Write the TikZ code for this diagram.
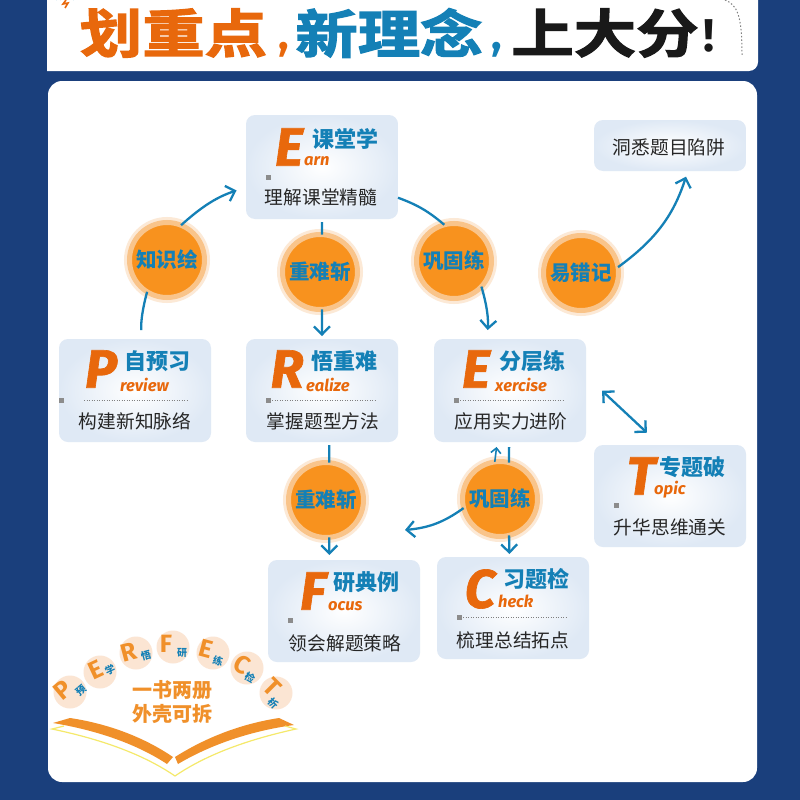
\documentclass[tikz,border=0pt]{standalone}
\usepackage{fontspec}
\usetikzlibrary{arrows.meta}
\newfontfamily\cjk{Noto Sans CJK SC}
\newfontfamily\cjkfat{Noto Sans CJK SC Bold}[FakeBold=2.5,FakeStretch=1.2]
\newfontfamily\lat{Fira Sans}
\newfontfamily\latfat{Fira Sans Bold Italic}[FakeBold=1.2]
\definecolor{navy}{HTML}{1A3F7C}
\definecolor{ora}{HTML}{E8680C}
\definecolor{blu}{HTML}{1480B6}
\definecolor{cardedge}{HTML}{DFE9F5}
\definecolor{halo}{HTML}{FCE9D6}
\definecolor{orbmid}{HTML}{F9C48A}
\definecolor{orbin}{HTML}{F8921E}
\definecolor{peach}{HTML}{FBE5D3}
\definecolor{bookora}{HTML}{F0902A}
\definecolor{bookyel}{HTML}{F5E96A}
\tikzset{
 card/.style={rounded corners=9pt,inner color=white,outer color=cardedge,anchor=north west,inner sep=0pt,outer sep=0pt},
 orb/.style={circle,minimum size=75pt,inner sep=0pt,outer sep=0pt,fill=orbin,draw=orbmid,line width=5pt,
   preaction={draw=halo,line width=11pt},text=blu,font=\cjk\bfseries\fontsize{20.5}{21}\selectfont},
 biglet/.style={text=ora,inner sep=0pt,font=\latfat\fontsize{54}{54}\selectfont},
 restlet/.style={text=ora,inner sep=0pt,anchor=west,font=\lat\bfseries\itshape\fontsize{16.5}{17}\selectfont},
 cardtitle/.style={text=blu,inner sep=0pt,font=\cjk\bfseries\fontsize{22}{22}\selectfont},
 cardsub/.style={text=black!85,inner sep=0pt,font=\cjk\fontsize{18.7}{19}\selectfont},
 sq/.style={fill=black!45,minimum size=5pt,inner sep=0pt},
 dotline/.style={draw=black!50,line width=.8pt,dash pattern=on 1pt off 1.5pt},
 conn/.style={draw=blu,line width=2.3pt},
 tip/.style={-{Straight Barb[length=8pt,width=16pt,line width=2.3pt]}},
 headline/.style={inner sep=0pt,font=\cjkfat\fontsize{52}{52}\selectfont},
 pball/.style={circle,fill=peach,minimum size=33pt,inner sep=0pt},
 plet/.style={text=bookora,inner sep=0pt,font=\lat\bfseries\fontsize{25}{25}\selectfont},
 pcj/.style={text=blu,inner sep=0pt,font=\cjk\bfseries\fontsize{10}{10}\selectfont},
 bookt/.style={text=bookora,inner sep=0pt,font=\cjk\bfseries\fontsize{20}{20}\selectfont},
}
\begin{document}
\begin{tikzpicture}[x=1pt,y=-1pt]
\useasboundingbox (0,0) rectangle (800,800);
\fill[navy] (0,0) rectangle (800,800);
% banner + panel
\fill[white] (47,-10) -- (758,-10) -- (758,62) arc[start angle=0,end angle=90,radius=9] -- (47,71) -- cycle;
\fill[white,rounded corners=14pt] (48,81) rectangle (757,782);
\draw[black!50,line width=1pt,dash pattern=on 1.5pt off 2pt] (725,0) .. controls (737,5) and (742,14) .. (742,55);
\draw[blu,line width=1.4pt] (56,0) arc[start angle=180,end angle=360,radius=9];
\draw[black!60,line width=1pt] (60,0) arc[start angle=180,end angle=300,radius=6];
\draw[ora,line width=1.6pt] (66,0) -- (63,4) -- (68,3) -- (65,8);
% headline
\node[headline,text=ora] (h1) at (173.5,33) {划重点};
\node[inner sep=0pt,text=ora,font=\lat\bfseries\fontsize{44}{44}\selectfont] (h1c) at (284,50) {,};
\node[headline,text=blu] (h2) at (389,33) {新理念};
\node[inner sep=0pt,text=blu,font=\lat\bfseries\fontsize{44}{44}\selectfont] (h2c) at (497,50) {,};
\node[headline,text=black!90] (h3) at (605,33) {上大分};
\node[inner sep=0pt,text=black!90,font=\lat\bfseries\fontsize{46}{46}\selectfont] (h3c) at (709,36) {!};
% cards
\node[card,minimum width=152pt,minimum height=104pt] (earn) at (246,115) {};
\node[biglet] (earnL) at (289,147) {E};
\node[cardtitle] (earnT) at (345,139) {课堂学};
\node[restlet] (earnR) at (304,161) {arn};
\node[sq] (earnS) at (268,177) {};
\node[cardsub] (earnB) at (321,197) {理解课堂精髓};

\node[card,minimum width=152pt,minimum height=103pt] (rev) at (59,339) {};
\node[biglet] (revL) at (101,369) {P};
\node[cardtitle] (revT) at (157,361) {自预习};
\node[restlet] (revR) at (120,385) {review};
\node[sq] (revS) at (61,400) {};
\draw[dotline] (84,400) -- (188,400);
\node[cardsub] (revB) at (135,421) {构建新知脉络};

\node[card,minimum width=152pt,minimum height=103pt] (rea) at (246,339) {};
\node[biglet] (reaL) at (287,369) {R};
\node[cardtitle] (reaT) at (344,361) {悟重难};
\node[restlet] (reaR) at (306,385) {ealize};
\node[sq] (reaS) at (268,400) {};
\draw[dotline] (272,400) -- (375,400);
\node[cardsub] (reaB) at (323,421) {掌握题型方法};

\node[card,minimum width=152pt,minimum height=103pt] (exe) at (434,339) {};
\node[biglet] (exeL) at (476,369) {E};
\node[cardtitle] (exeT) at (532,361) {分层练};
\node[restlet] (exeR) at (495,385) {xercise};
\node[sq] (exeS) at (456,400) {};
\draw[dotline] (460,400) -- (563,400);
\node[cardsub] (exeB) at (511,421) {应用实力进阶};

\node[card,minimum width=152pt,minimum height=102pt] (top) at (594,445) {};
\node[biglet] (topL) at (641,476) {T};
\node[cardtitle] (topT) at (692,467) {专题破};
\node[restlet] (topR) at (654,490) {opic};
\node[sq] (topS) at (616,505) {};
\node[cardsub] (topB) at (670,527) {升华思维通关};

\node[card,minimum width=152pt,minimum height=102pt] (foc) at (268,560) {};
\node[biglet] (focL) at (313,591) {F};
\node[cardtitle] (focT) at (366,582) {研典例};
\node[restlet] (focR) at (328,606) {ocus};
\node[sq] (focS) at (290,620) {};
\node[cardsub] (focB) at (345,643) {领会解题策略};

\node[card,minimum width=152pt,minimum height=102pt] (che) at (437,557) {};
\node[biglet] (cheL) at (480,589) {C};
\node[cardtitle] (cheT) at (536,579) {习题检};
\node[restlet] (cheR) at (498,601) {heck};
\node[sq] (cheS) at (459,617) {};
\draw[dotline] (463,617) -- (566,617);
\node[cardsub] (cheB) at (513,640) {梳理总结拓点};

\node[card,minimum width=152pt,minimum height=51pt] (trap) at (594,120) {};
\node[cardsub] (trapB) at (669,147) {洞悉题目陷阱};

% orbs
\node[orb] (o1) at (167,260) {知识绘};
\node[orb] (o2) at (320,272) {重难斩};
\node[orb] (o3) at (454,261) {巩固练};
\node[orb] (o4) at (581,273) {易错记};
\node[orb] (o5) at (326,500) {重难斩};
\node[orb] (o6) at (500,499) {巩固练};
\coordinate (free) at (405,530);

% connectors
\draw[conn,shorten <=9pt] (rev.83) to[bend left=8] (o1.238);
\draw[conn,tip,shorten >=10pt] (o1.68) to[bend right=-12] (earn.195);
\draw[conn,shorten <=3pt] (earn.south) -- (o2.87);
\draw[conn,tip,shorten >=3pt] (o2.273) -- (rea.north);
\draw[conn] (earn.338) to[bend left=10] (o3.105);
\draw[conn,tip,shorten >=9pt] (o3.317) to[bend left=10] (exe.114);
\draw[conn,tip,shorten >=6pt] (o4.9) to[bend right=18] (trap.305);
\draw[conn,shorten <=3pt] (rea.278) -- (o5.85);
\draw[conn,tip,shorten >=5pt] (o5.275) -- (foc.106);
\draw[conn,shorten <=5pt] (exe.269) -- (o6.76);
\draw[conn,line width=1.6pt,-{Straight Barb[length=5pt,width=10pt,line width=1.6pt]},shorten >=5pt] (o6.98) -- (exe.256);
\draw[conn,tip,shorten >=3pt] (o6.284) -- (che.94);
\draw[conn,tip] (o6.194) to[bend left=15] (free);
\draw[conn,{Straight Barb[length=8pt,width=16pt,line width=2.3pt]}-{Straight Barb[length=8pt,width=16pt,line width=2.3pt]},shorten <=22pt,shorten >=18pt] (exe.11) -- (top.101);

% PERFECT badge
\foreach \n/\bx/\by/\lx/\ly/\r/\L/\sx/\sy/\C in {
 a/70/692/63/690/40/P/81/691/预,
 b/100/672/96/670/25/E/110/670/学,
 c/136/653/129/652/15/R/146/656/悟,
 d/173/647/166/644/0/F/182/653/研,
 e/213/653/206/649/-15/E/218/661/练,
 f/247/668/242/665/-30/C/250/678/检,
 g/276/693/272/687/-45/T/273/703/析}{
 \node[pball] (ball\n) at (\bx,\by) {};
 \node[plet,rotate=\r] (let\n) at (\lx,\ly) {\L};
 \node[pcj,rotate=\r] (cj\n) at (\sx,\sy) {\C};
}
\node[bookt] (bk1) at (172,690) {一书两册};
\node[bookt] (bk2) at (172,714) {外壳可拆};
\fill[bookora] (53,723) -- (70,718) .. controls (110,724) and (145,738) .. (173,757) -- (167,764) .. controls (135,743) and (95,730) .. cycle;
\fill[bookora] (175,757) .. controls (205,738) and (240,724) .. (279,718) -- (294,725) .. controls (250,731) and (210,745) .. (178,764) -- cycle;
\draw[bookyel,line width=1.2pt] (64,726) -- (52,729) .. controls (95,738) and (140,752) .. (175,776) .. controls (210,752) and (255,738) .. (296,729) -- (285,726);
\end{tikzpicture}
\end{document}
